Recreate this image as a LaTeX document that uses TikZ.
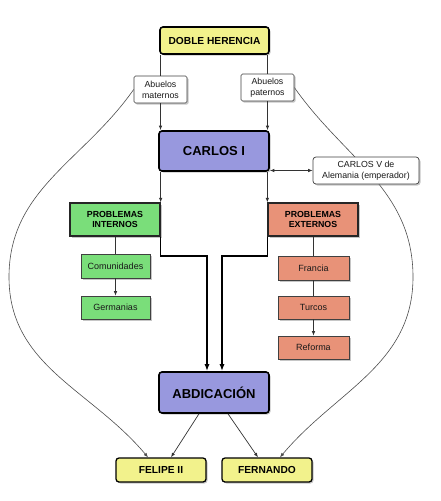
\documentclass[tikz,border=0pt]{standalone}
\usepackage{fontspec}
\setmainfont{Liberation Sans}
\usetikzlibrary{arrows.meta,shadows,backgrounds,calc}
\definecolor{amarillo}{RGB}{242,242,140}
\definecolor{azul}{RGB}{152,152,222}
\definecolor{verde}{RGB}{122,222,122}
\definecolor{salmon}{RGB}{232,146,120}

\begin{document}
\begin{tikzpicture}[x=1pt,y=-1pt,
	sombra/.style={drop shadow={shadow xshift=1.5pt,shadow yshift=-1.5pt,opacity=0.45}},
	mainbox/.style={draw=black,line width=1.6pt,rounded corners=3pt,inner sep=0pt,sombra},
	probbox/.style={draw=black!85,line width=1.3pt,inner sep=0pt,align=center,sombra,
		font=\bfseries\fontsize{8.8}{10.5}\selectfont},
	subbox/.style={draw=black!75,line width=0.7pt,inner sep=0pt,align=center,sombra,
		font=\fontsize{9}{10}\selectfont,text=black!90},
	notebox/.style={subbox,fill=white,rounded corners=1.5pt,font=\fontsize{8.8}{11}\selectfont},
	linea/.style={black!80,line width=0.7pt},
	flecha/.style={linea,-{Latex[length=4.5pt,width=3.5pt]}},
	gruesa/.style={black,line width=1.5pt,-{Latex[length=7pt,width=5pt]}},
	curva/.style={black!70,line width=0.6pt,-{Latex[length=4.5pt,width=3.5pt]}}]
	\useasboundingbox (0,0) rectangle (441,501);

	% cabecera
	\node[mainbox,fill=amarillo,minimum width=109pt,minimum height=27pt,
		font=\bfseries\fontsize{10.2}{12}\selectfont] (herencia) at (214.5,40.5) {DOBLE HERENCIA};
	\node[notebox,minimum width=53pt,minimum height=27pt] (maternos) at (160.5,89.5) {Abuelos\\maternos};
	\node[notebox,minimum width=53pt,minimum height=27pt] (paternos) at (267.5,87.5) {Abuelos\\paternos};

	\node[mainbox,fill=azul,minimum width=110pt,minimum height=40pt,
		font=\bfseries\fontsize{13}{15}\selectfont] (carlos) at (214,151) {CARLOS I};
	\node[notebox,rounded corners=3pt,minimum width=106pt,minimum height=27pt] (carlosv) at (366,170.5) {CARLOS V de\\Alemania (emperador)};

	% problemas
	\node[probbox,fill=verde,minimum width=90pt,minimum height=33pt] (internos) at (115,219.5) {PROBLEMAS\\INTERNOS};
	\node[subbox,fill=verde,minimum width=69pt,minimum height=24pt] (comunidades) at (115.5,266) {Comunidades};
	\node[subbox,fill=verde,minimum width=69pt,minimum height=23pt] (germanias) at (115.5,307.5) {Germanias};

	\node[probbox,fill=salmon,minimum width=90pt,minimum height=33pt] (externos) at (313,219.5) {PROBLEMAS\\EXTERNOS};
	\node[subbox,fill=salmon,minimum width=71pt,minimum height=24pt] (francia) at (313.5,268) {Francia};
	\node[subbox,fill=salmon,minimum width=71pt,minimum height=23pt] (turcos) at (313.5,307.5) {Turcos};
	\node[subbox,fill=salmon,minimum width=71pt,minimum height=23pt] (reforma) at (313.5,347.5) {Reforma};

	% final
	\node[mainbox,fill=azul,minimum width=110pt,minimum height=41pt,
		font=\bfseries\fontsize{13}{15}\selectfont] (abdicacion) at (214,392.5) {ABDICACIÓN};
	\node[mainbox,fill=amarillo,line width=1.3pt,minimum width=90pt,minimum height=24pt,
		font=\bfseries\fontsize{10.2}{12}\selectfont] (felipe) at (161,470) {FELIPE II};
	\node[mainbox,fill=amarillo,line width=1.3pt,minimum width=90pt,minimum height=24pt,
		font=\bfseries\fontsize{10.2}{12}\selectfont] (fernando) at (267,470) {FERNANDO};

	\coordinate (jl) at (207,256);
	\coordinate (jr) at (222,256);
	\coordinate (lbend) at (9,277);
	\coordinate (rbend) at (413,277);

	\draw[linea] (herencia.south -| maternos.north) -- (maternos.north);
	\draw[linea] (herencia.south -| paternos.north) -- (paternos.north);
	\draw[flecha] (maternos.south) -- (maternos.south |- carlos.north);
	\draw[flecha] (paternos.south) -- (paternos.south |- carlos.north);
	\draw[linea,{Latex[length=4.5pt,width=3.5pt]}-{Latex[length=4.5pt,width=3.5pt]}] (carlos.east |- carlosv) -- (carlosv.west);

	\draw[flecha] (carlos.south -| internos.north east) -- (internos.north east);
	\draw[flecha] (carlos.south -| externos.north west) -- (externos.north west);

	\draw[linea] (internos.south -| comunidades.north) -- (comunidades.north);
	\draw[flecha] (comunidades) -- (germanias);
	\draw[linea] (externos.south -| francia.north) -- (francia.north);
	\draw[linea] (francia) -- (turcos);
	\draw[flecha] (turcos) -- (reforma);

	\draw[gruesa] (internos.south east) |- (jl) -- (jl |- abdicacion.north);
	\draw[gruesa] (externos.south west) |- (jr) -- (jr |- abdicacion.north);

	\draw[flecha] ($(abdicacion.south)+(-15,0)$) -- ($(felipe.north)+(10,0)$);
	\draw[flecha] ($(abdicacion.south)+(14,0)$) -- ($(fernando.north)+(-9,0)$);

	\begin{scope}[on background layer]
	\draw[curva] (maternos.west) to[out=235,in=90] (lbend) to[out=-90,in=130] ($(felipe.north)+(-13,0)$);
	\draw[curva] (paternos.east) to[out=-55,in=90] (rbend) to[out=-90,in=50] ($(fernando.north)+(13,0)$);
	\end{scope}
\end{tikzpicture}
\end{document}
